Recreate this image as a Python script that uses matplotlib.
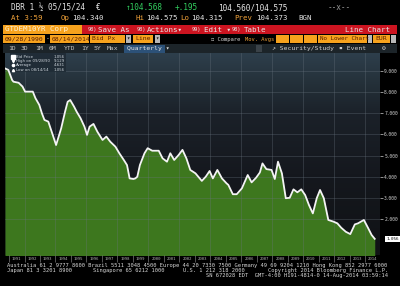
import matplotlib
matplotlib.use("Agg")
import matplotlib.pyplot as plt
from matplotlib.patches import Rectangle
from matplotlib.colors import LinearSegmentedColormap
import numpy as np
import pandas as pd

plt.rcParams['font.family'] = ['DejaVu Sans Mono', 'DejaVu Sans']

# 10Y German Bund yield, quarterly
dates = ["1990-09-28", "1990-12-15", "1991-03-15", "1991-04-15", "1991-08-15", "1991-11-15",
         "1992-01-15", "1992-07-15", "1992-09-15", "1992-12-15", "1993-02-15", "1993-04-15",
         "1993-07-15", "1993-10-15", "1994-01-15", "1994-05-15", "1994-08-15", "1994-10-15",
         "1994-12-15", "1995-03-15", "1995-05-15", "1995-08-15", "1995-11-15", "1996-01-15",
         "1996-03-15", "1996-06-15", "1996-09-15", "1997-01-15", "1997-04-15", "1997-07-15",
         "1997-11-15", "1998-02-15", "1998-06-01", "1998-08-15", "1998-10-15", "1999-01-15",
         "1999-03-01", "1999-04-15", "1999-06-15", "1999-10-01", "1999-12-15", "2000-04-01",
         "2000-09-01", "2000-12-01", "2001-03-15", "2001-06-01", "2001-09-01", "2001-12-15",
         "2002-03-15", "2002-06-15", "2002-09-15", "2003-01-15", "2003-06-15", "2003-09-15",
         "2003-12-15", "2004-03-01", "2004-06-15", "2004-10-01", "2005-01-15", "2005-03-01",
         "2005-06-15", "2005-09-15", "2006-01-15", "2006-06-01", "2006-09-01", "2006-12-15",
         "2007-03-15", "2007-05-15", "2007-08-15", "2007-12-15", "2008-03-01", "2008-05-15",
         "2008-08-15", "2008-11-15", "2009-02-15", "2009-05-15", "2009-08-15", "2009-11-15",
         "2010-02-15", "2010-05-15", "2010-08-15", "2010-11-15", "2011-02-01", "2011-05-01",
         "2011-08-15", "2011-12-15", "2012-03-15", "2012-06-15", "2012-10-01", "2013-01-15",
         "2013-05-01", "2013-07-15", "2013-12-01", "2014-03-15", "2014-06-01", "2014-08-14"]
yields = [9.13, 9.06, 8.58, 8.50, 8.45, 8.27,
          8.03, 8.03, 7.72, 7.40, 7.00, 6.69,
          6.61, 6.06, 5.50, 6.29, 7.08, 7.55,
          7.63, 7.32, 7.08, 6.77, 6.37, 5.98,
          6.37, 6.50, 6.13, 5.74, 5.90, 5.66,
          5.42, 5.11, 4.79, 4.55, 3.92, 3.89,
          3.92, 4.00, 4.55, 5.11, 5.35, 5.23,
          5.23, 4.87, 4.71, 5.11, 4.79, 5.03,
          5.27, 4.87, 4.32, 4.16, 3.80, 4.00,
          4.27, 3.92, 4.32, 3.92, 3.69, 3.61,
          3.17, 3.17, 3.45, 4.08, 3.73, 3.95,
          4.20, 4.63, 4.36, 4.32, 3.89, 4.71,
          4.16, 2.98, 3.00, 3.40, 3.26, 3.40,
          3.13, 2.66, 2.26, 2.98, 3.37, 2.98,
          1.95, 1.87, 1.79, 1.58, 1.39, 1.28,
          1.74, 1.79, 1.95, 1.55, 1.24, 1.056]

ytick_vals = [2, 3, 4, 5, 6, 7, 8, 9]
years = list(range(1991, 2015))
legend_rows = [("Bid Price", "1.056"), ("High on 09/28/90", "9.129"),
               ("Average", "4.631"), ("Low on 08/14/14", "1.056")]

x = pd.to_datetime(dates)

fig = plt.figure(figsize=(4, 2.86), dpi=100, facecolor='black')

# ---- header / footer drawn in pixel coordinates
hdr = fig.add_axes([0, 0, 1, 1], zorder=0)
hdr.set_xlim(0, 400)
hdr.set_ylim(286, 0)
hdr.axis('off')
hdr.set_facecolor('black')

AMB = '#f2a33a'
WH = '#e6e6e6'
GRN = '#33d060'
ORB = '#f6a21d'
RED = '#cc1420'


def box(x0, y0, x1, y1, c):
    hdr.add_patch(Rectangle((x0, y0), x1 - x0, y1 - y0, color=c, lw=0))


def t(xx, yy, s, c, size=5.6, **kw):
    hdr.text(xx, yy, s, color=c, fontsize=size, va='center', ha=kw.pop('ha', 'left'), **kw)


# row 1
t(11, 8, "DBR 1 ½ 05/15/24", WH)
t(96, 8, "€", WH)
t(126, 8, "↑104.568", GRN)
t(175, 8, "+.195", GRN)
t(218, 8, "104.560/104.575", WH)
t(328, 8, "--x--", '#999999')
# row 2
t(11, 18, "At 3:59", AMB, size=5.3)
t(61, 18, "Op", AMB, size=5.3)
t(72, 18, "104.340", WH, size=5.3)
t(136, 18, "Hi", AMB, size=5.3)
t(146, 18, "104.575", WH, size=5.3)
t(180, 18, "Lo", AMB, size=5.3)
t(191, 18, "104.315", WH, size=5.3)
t(234, 18, "Prev", AMB, size=5.3)
t(256, 18, "104.373", WH, size=5.3)
t(298, 18, "BGN", WH, size=5.3)
# row 3
box(3, 25, 82, 34, ORB)
t(5, 29.5, "GTDEM10YR Corp", '#fff2d8', size=5.4)
box(82, 25, 397, 34, RED)
t(88, 29.5, "98)", WH, size=3.8)
t(98, 29.5, "Save As", WH, size=5.4)
t(137, 29.5, "98)", WH, size=3.8)
t(147, 29.5, "Actions▾", WH, size=5.4)
t(192, 29.5, "99)", WH, size=3.8)
t(204, 29.5, "Edit ▾", WH, size=5.4)
t(232, 29.5, "98)", WH, size=3.8)
t(244, 29.5, "Table", WH, size=5.4)
t(390, 29.5, "Line Chart", WH, size=5.4, ha='right')
# row 4
DK = '#5a1e00'
box(3, 35, 45, 43, ORB)
t(5, 39, "09/28/1990", DK, size=4.6)
t(46, 39, "-", WH, size=4.6)
box(50, 35, 89, 43, ORB)
t(52, 39, "08/14/2014", DK, size=4.6)
box(90, 35, 125, 43, ORB)
t(92, 39, "Bid Px", DK, size=4.6)
box(126, 35, 131, 43, '#b8b8b8')
t(128.5, 39, "▾", '#222222', size=4, ha='center')
box(133, 35, 153, 43, ORB)
t(135, 39, "Line", DK, size=4.6)
box(155, 35, 160, 43, '#b8b8b8')
t(157.5, 39, "▾", '#222222', size=4, ha='center')
t(211, 39, "☐ Compare", '#cfcfcf', size=4.0)
t(245, 39, "Mov. Avgs", AMB, size=3.9)
for bx in (276, 290, 304):
    box(bx, 35, bx + 13, 43, ORB)
box(318, 35, 367, 43, ORB)
t(320, 39, "No Lower Chart", DK, size=4.2)
box(368, 35, 372, 43, '#b8b8b8')
box(373, 35, 390, 43, ORB)
t(375, 39, "EUR", DK, size=4.6)
box(391, 35, 396, 43, '#b8b8b8')
# row 5
box(3, 44, 397, 53, '#1c2429')
for lbl, px in [("1D", 8), ("3D", 21), ("1M", 35), ("6M", 49), ("YTD", 64),
                ("1Y", 81), ("5Y", 94), ("Max", 107)]:
    t(px, 48.5, lbl, '#c4c4c4', size=4.6)
box(124, 44.5, 165, 52.5, '#2c5178')
t(127, 48.5, "Quarterly ▾", WH, size=4.6)
box(256, 45, 262, 52, '#3a4248')
t(272, 48.5, "↗ Security/Study", '#d0d0d0', size=4.6)
t(339, 48.5, "▪ Event", '#d0d0d0', size=4.6)
t(382, 48.5, "⚙", '#d0d0d0', size=4.6)
# footer
FT = '#d8d8d8'
t(7, 265, "Australia 61 2 9777 8600 Brazil 5511 3048 4500 Europe 44 20 7330 7500 "
          "Germany 49 69 9204 1210 Hong Kong 852 2977 6000", FT, size=3.9)
t(7, 270.5, "Japan 81 3 3201 8900", FT, size=3.9)
t(93, 270.5, "Singapore 65 6212 1000", FT, size=3.9)
t(183, 270.5, "U.S. 1 212 318 2000", FT, size=3.9)
t(388, 270.5, "Copyright 2014 Bloomberg Finance L.P.", FT, size=3.9, ha='right')
t(388, 275.5, "SN 672028 EDT  GMT-4:00 H191-4814-0 14-Aug-2014 03:59:14", FT, size=3.9, ha='right')

# ---- the chart
ax = fig.add_axes([5 / 400, 31 / 286, 375 / 400, 202 / 286], zorder=2)
ax.set_facecolor('#15181e')

cmap = LinearSegmentedColormap.from_list('bg', [(0.0, '#2e3f4c'), (0.15, '#243039'),
                                                (0.3, '#1b2129'), (0.6, '#15181e'),
                                                (1.0, '#101215')])
ax.imshow(np.linspace(0, 1, 256).reshape(-1, 1), cmap=cmap, aspect='auto',
          extent=[0, 1, 0, 1], transform=ax.transAxes, zorder=0)

ax.fill_between(x, yields, 0, color='#3d771e', lw=0, zorder=1)
ax.plot(x, yields, color='#f4f4f4', lw=1.3, zorder=4, solid_joinstyle='round')

ax.set_xlim(pd.Timestamp("1990-09-28"), pd.Timestamp("2014-12-16"))
ax.set_ylim(0.29, 9.86)

for yv in ytick_vals:
    ax.axhline(yv, color='#6a7580', lw=0.5, alpha=0.45, zorder=3)
for yr in range(1992, 2015, 2):
    ax.axvline(pd.Timestamp(f"{yr}-01-01"), color='#6a7580', lw=0.5, alpha=0.45, zorder=3)

ax.yaxis.tick_right()
ax.set_yticks(ytick_vals)
ax.set_yticklabels([f"{v:.3f}" for v in ytick_vals])
ax.tick_params(axis='y', colors='#d0d0d0', labelsize=3.3, length=2, width=0.5, pad=1)

ax.set_xticks([pd.Timestamp(f"{y}-01-01") for y in years])
ax.set_xticklabels([])
ax.set_xticks([pd.Timestamp(f"{y}-07-01") for y in years], minor=True)
ax.set_xticklabels([str(y) for y in years], minor=True)
ax.tick_params(axis='x', which='major', colors='#777777', length=5, width=0.5)
ax.tick_params(axis='x', which='minor', colors='#b4b4b4', labelsize=2.8, length=0, pad=1.2)
for s in ax.spines.values():
    s.set_visible(False)

# last value tag
ax.annotate(f"{yields[-1]:.3f}", xy=(1.0, yields[-1]), xycoords=('axes fraction', 'data'),
            xytext=(4.5, 0), textcoords='offset points', fontsize=3.1, color='black',
            va='center', ha='left', annotation_clip=False,
            bbox=dict(boxstyle='square,pad=0.2', fc='white', ec='none'))

# legend box
ax.add_patch(Rectangle((0.013, 0.905), 0.15, 0.095, transform=ax.transAxes,
                       color='#1f2b35', alpha=0.9, lw=0, zorder=5))
marks = ['s', 'v', 'o', '^']
for i, (lbl, val) in enumerate(legend_rows):
    yy = 0.981 - i * 0.021
    ax.plot([0.021], [yy], marker=marks[i], ms=1.6 if i else 2.2, color='white',
            transform=ax.transAxes, zorder=6, clip_on=False)
    ax.text(0.03, yy, lbl, transform=ax.transAxes, fontsize=2.8, color='#cfd6dc',
            va='center', zorder=6, family='DejaVu Sans')
    ax.text(0.159, yy, val, transform=ax.transAxes, fontsize=2.8, color='#cfd6dc',
            va='center', ha='right', zorder=6, family='DejaVu Sans')

fig.savefig('out.png', dpi=100, facecolor='black')
